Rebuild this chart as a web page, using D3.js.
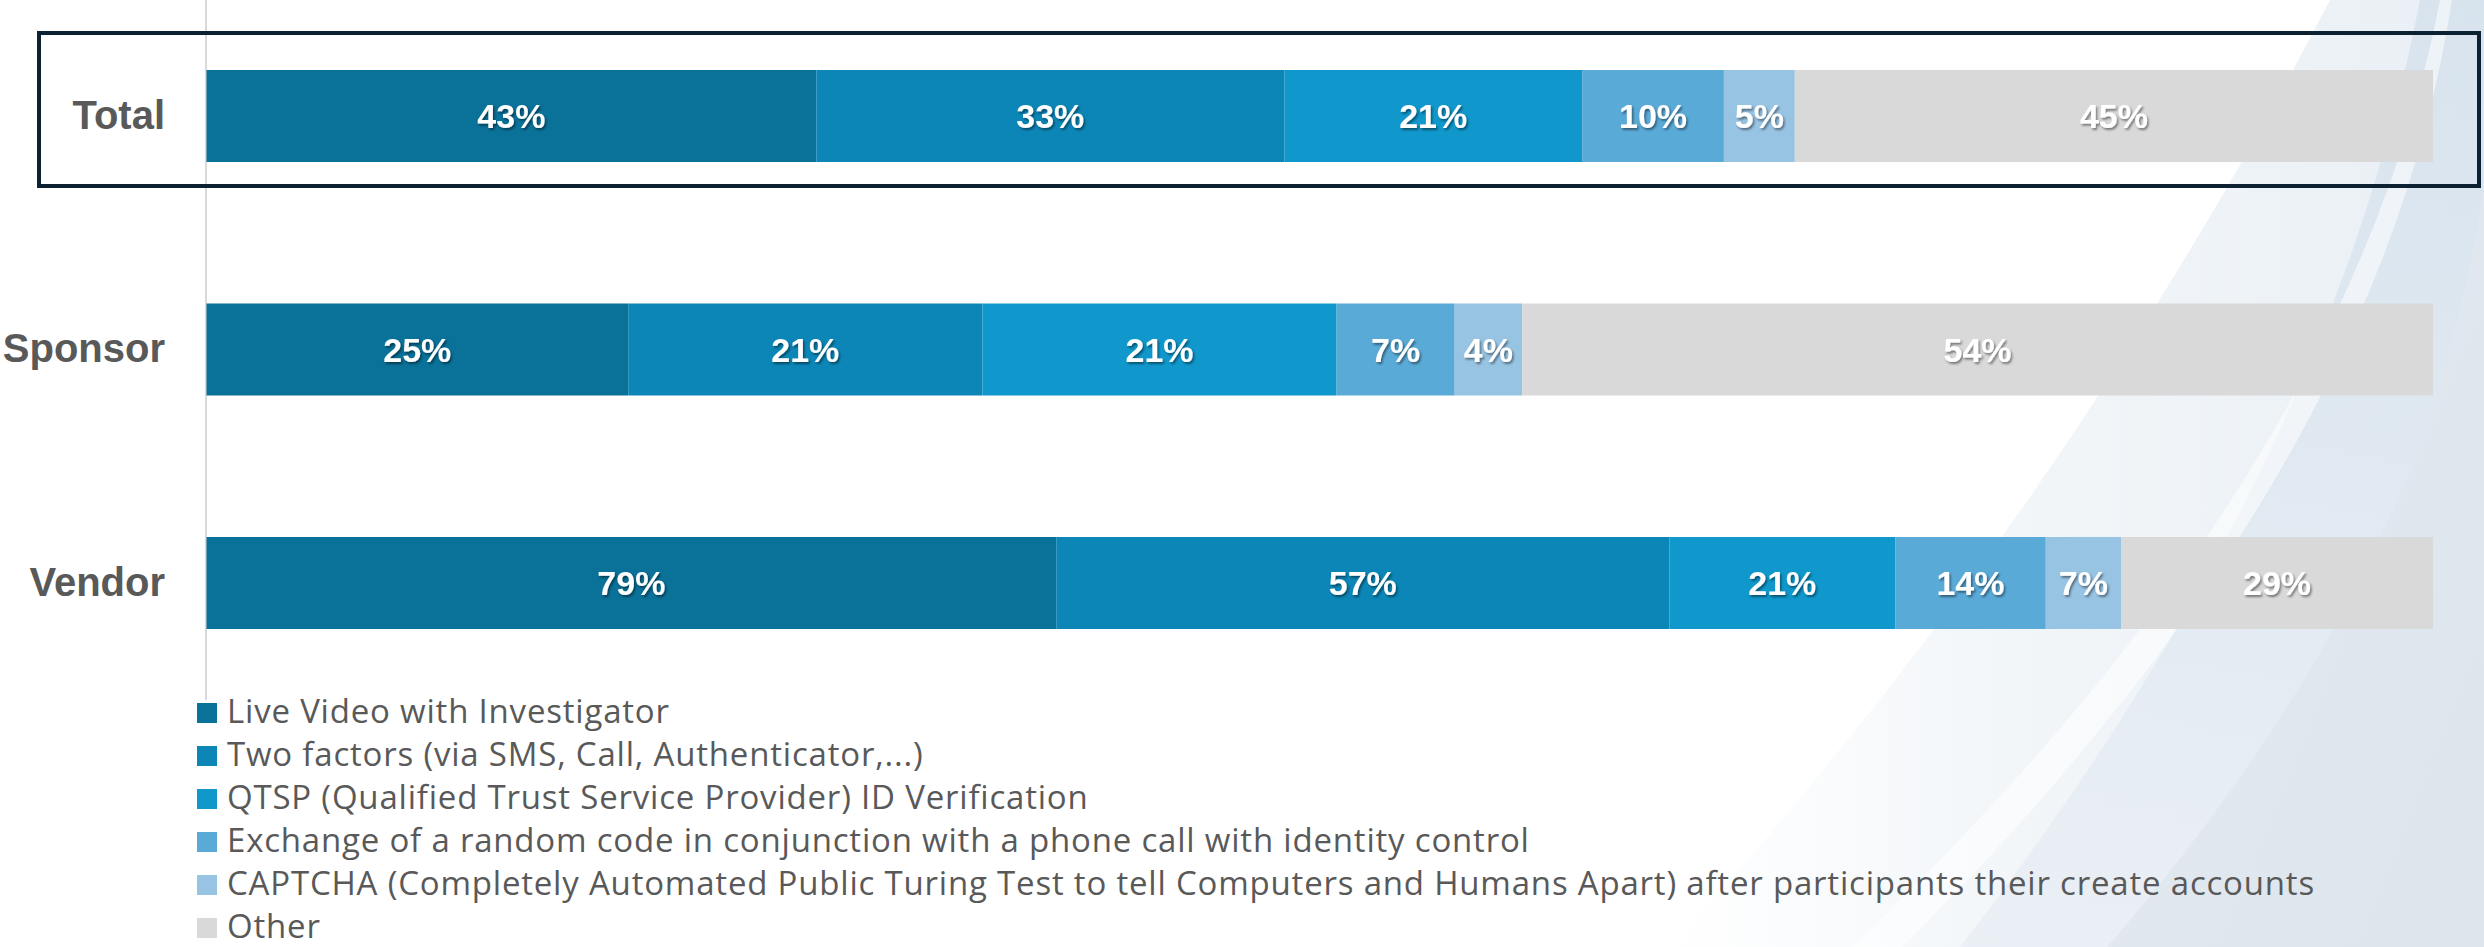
<!DOCTYPE html>
<html>
<head>
<meta charset="utf-8">
<script src="https://cdn.jsdelivr.net/npm/d3@7"></script>
<style>
  html, body { margin: 0; padding: 0; background: #ffffff; }
  svg { display: block; }
</style>
</head>
<body>
<svg id="chart" width="2484" height="947"></svg>
<script>
// Respondent groups (rows) and identity-verification methods (stack series)
const groups = ["Total", "Sponsor", "Vendor"];
const methods = [
  "Live Video with Investigator",
  "Two factors (via SMS, Call, Authenticator,...)",
  "QTSP (Qualified Trust Service Provider) ID Verification",
  "Exchange of a random code in conjunction with a phone call with identity control",
  "CAPTCHA (Completely Automated Public Turing Test to tell Computers and Humans Apart) after participants their create accounts",
  "Other"
];
// Share of respondents naming each method, per group (multiple answers allowed)
const liveVideo  = [43, 25, 79];
const twoFactors = [33, 21, 57];
const qtsp       = [21, 21, 21];
const randomCode = [10,  7, 14];
const captcha    = [ 5,  4,  7];
const other      = [45, 54, 29];
const methodColors = ["#0a7199", "#0c86b7", "#1097cb", "#5aaad8", "#98c4e4", "#d9d9d9"];

const seriesValues = [liveVideo, twoFactors, qtsp, randomCode, captcha, other];
const rows = groups.map((g, i) => {
  const r = { group: g };
  methods.forEach((m, j) => { r[m] = seriesValues[j][i]; });
  return r;
});

const svg = d3.select("#chart");
const defs = svg.append("defs");

// soft decorative swooshes in the background
const haze = defs.append("linearGradient").attr("id", "haze")
  .attr("x1", 0).attr("y1", 0).attr("x2", 1).attr("y2", 0);
haze.append("stop").attr("offset", "0%").attr("stop-color", "#eef3f7").attr("stop-opacity", 0);
haze.append("stop").attr("offset", "45%").attr("stop-color", "#eef3f7").attr("stop-opacity", 0.8);
haze.append("stop").attr("offset", "100%").attr("stop-color", "#e9eff5").attr("stop-opacity", 1);

const band = defs.append("linearGradient").attr("id", "band")
  .attr("x1", 0).attr("y1", 0).attr("x2", 0).attr("y2", 1);
band.append("stop").attr("offset", "0%").attr("stop-color", "#d3e0ec");
band.append("stop").attr("offset", "100%").attr("stop-color", "#e8eef4");

const side = defs.append("linearGradient").attr("id", "side")
  .attr("x1", 0).attr("y1", 0).attr("x2", 1).attr("y2", 1);
side.append("stop").attr("offset", "0%").attr("stop-color", "#e5ebf1");
side.append("stop").attr("offset", "100%").attr("stop-color", "#dde5ed");

const bg = svg.append("g").attr("class", "background");
bg.append("path")
  .attr("d", "M2330,0 L2484,0 L2484,947 L1670,947 Q2060,520 2330,0 Z")
  .attr("fill", "url(#haze)");
bg.append("path")
  .attr("d", "M2420,0 L2490,0 Q2517,473 2107,947 L1960,947 Q2330,470 2420,0 Z")
  .attr("fill", "url(#band)").attr("opacity", 0.8);
bg.append("path")
  .attr("d", "M2490,0 Q2517,473 2107,947 L2484,947 Z")
  .attr("fill", "url(#side)");
bg.append("path")
  .attr("d", "M2440,0 L2452,0 Q2380,473 1902,947 L1852,947 Q2350,473 2440,0 Z")
  .attr("fill", "#ffffff").attr("opacity", 0.55);

// drop shadow for the value labels
const f = defs.append("filter").attr("id", "labelShadow")
  .attr("x", "-20%").attr("y", "-20%").attr("width", "140%").attr("height", "140%");
f.append("feDropShadow").attr("dx", 1.5).attr("dy", 2).attr("stdDeviation", 1.2)
  .attr("flood-color", "#000").attr("flood-opacity", 0.45);

// scales
const x = d3.scaleLinear().domain([0, 1]).range([206.5, 2433]);
const y = d3.scaleBand().domain(groups).range([70, 629]).paddingInner(0.606).paddingOuter(0);
const color = d3.scaleOrdinal().domain(methods).range(methodColors);

// normalised stack: each bar fills the full width
const stack = d3.stack().keys(methods).offset(d3.stackOffsetExpand);
const stacked = stack(rows);

// vertical category axis line
svg.append("line")
  .attr("x1", 206).attr("x2", 206).attr("y1", 0).attr("y2", 700)
  .attr("stroke", "#d9d9d9").attr("stroke-width", 2);

// bars
const layer = svg.append("g").selectAll("g").data(stacked).join("g")
  .attr("fill", d => color(d.key));
layer.selectAll("rect").data(d => d.map(p => ({ p, key: d.key }))).join("rect")
  .attr("x", d => x(d.p[0]))
  .attr("y", d => y(d.p.data.group))
  .attr("width", d => x(d.p[1]) - x(d.p[0]))
  .attr("height", y.bandwidth());

// value labels
const labels = svg.append("g")
  .attr("font-family", "'Liberation Sans', Arial, sans-serif")
  .attr("font-weight", "bold").attr("font-size", 34)
  .attr("fill", "#ffffff").attr("text-anchor", "middle")
  .attr("filter", "url(#labelShadow)");
stacked.forEach(s => {
  s.forEach(p => {
    labels.append("text")
      .attr("x", (x(p[0]) + x(p[1])) / 2)
      .attr("y", y(p.data.group) + y.bandwidth() / 2)
      .attr("dy", "0.36em")
      .text(p.data[s.key] + "%");
  });
});

// category axis labels
const yAxis = d3.axisLeft(y).tickSize(0).tickPadding(41);
const gy = svg.append("g").attr("transform", "translate(206,0)").call(yAxis);
gy.select(".domain").remove();
gy.selectAll("text")
  .attr("font-family", "'Liberation Sans', Arial, sans-serif")
  .attr("font-weight", "bold").attr("font-size", 40)
  .attr("fill", "#595959");

// highlight frame around the Total row
svg.append("rect")
  .attr("x", 39).attr("y", 33).attr("width", 2440).attr("height", 153)
  .attr("fill", "none").attr("stroke", "#0c2233").attr("stroke-width", 4);

// legend
const legend = svg.append("g").attr("transform", "translate(197,703)");
const item = legend.selectAll("g").data(methods).join("g")
  .attr("transform", (d, i) => `translate(0,${i * 43})`);
item.append("rect").attr("width", 20).attr("height", 20).attr("fill", d => color(d));
item.append("text")
  .attr("x", 30).attr("y", 20)
  .attr("font-family", "'Open Sans', 'Noto Sans', sans-serif")
  .attr("font-size", 33).attr("letter-spacing", 0.8).attr("fill", "#595959")
  .text(d => d);
</script>
</body>
</html>
